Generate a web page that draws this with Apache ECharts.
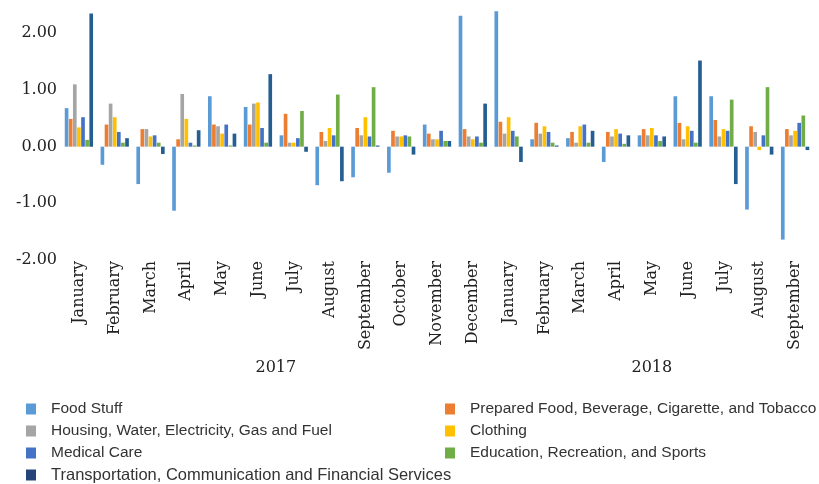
<!DOCTYPE html>
<html>
<head>
<meta charset="utf-8">
<script src="https://cdn.jsdelivr.net/npm/echarts@6/dist/echarts.min.js"></script>
<style>html,body{margin:0;padding:0;background:#fff}#c{width:819px;height:484px}</style>
</head>
<body>
<div id="c"></div>
<script>
const months = ['January','February','March','April','May','June','July','August','September','October','November','December',
  'January','February','March','April','May','June','July','August','September'];
const years = ['2017','2018'];
const monthsPerYear = [12, 9];
const yTicks = [-2, -1, 0, 1, 2];

const seriesNames = ['Food Stuff','Prepared Food, Beverage, Cigarette, and Tobacco','Housing, Water, Electricity, Gas and Fuel','Clothing','Medical Care','Education, Recreation, and Sports','Transportation, Communication and Financial Services'];

const foodStuff   = [0.68,-0.32,-0.66,-1.13,0.89,0.70,0.20,-0.68,-0.54,-0.46,0.39,2.31,2.39,0.13,0.15,-0.27,0.20,0.89,0.89,-1.11,-1.64];
const prepared    = [0.49,0.39,0.31,0.13,0.39,0.39,0.58,0.26,0.33,0.28,0.23,0.31,0.44,0.42,0.26,0.26,0.31,0.42,0.47,0.36,0.31];
const housing     = [1.10,0.76,0.31,0.93,0.36,0.76,0.07,0.10,0.20,0.18,0.13,0.18,0.23,0.23,0.07,0.18,0.20,0.13,0.18,0.26,0.20];
const clothing    = [0.34,0.52,0.18,0.49,0.23,0.78,0.07,0.33,0.52,0.18,0.13,0.13,0.52,0.36,0.36,0.31,0.33,0.36,0.31,-0.06,0.28];
const medical     = [0.52,0.26,0.20,0.07,0.39,0.33,0.15,0.20,0.18,0.20,0.28,0.18,0.28,0.26,0.39,0.23,0.20,0.28,0.28,0.20,0.42];
const education   = [0.12,0.07,0.07,0.02,0.02,0.07,0.63,0.92,1.05,0.18,0.10,0.07,0.18,0.07,0.07,0.05,0.10,0.07,0.83,1.05,0.55];
const transport   = [2.35,0.15,-0.13,0.29,0.23,1.28,-0.09,-0.61,0.02,-0.14,0.10,0.76,-0.27,0.02,0.28,0.20,0.18,1.52,-0.66,-0.14,-0.06];

const seriesData = [foodStuff, prepared, housing, clothing, medical, education, transport];
const barColors = ['#5B9BD5','#ED7D31','#A5A5A5','#FFC000','#4472C4','#70AD47','#255E91'];
const legendColors = ['#5B9BD5','#ED7D31','#A5A5A5','#FFC000','#4472C4','#70AD47','#264478'];

// year label centres derived from month counts
const yearCenters = [];
let acc = 0;
monthsPerYear.forEach(n => { yearCenters.push(acc + n / 2); acc += n; });

const chart = echarts.init(document.getElementById('c'), null, {renderer: 'canvas'});

const serif = 'DejaVu Serif';
const legendText = {fontFamily: 'Liberation Sans', fontSize: 15.5, color: '#333', lineHeight: 18, padding: [0, 0, 0, 10]};

function legendItems(idx) {
  return idx.map(i => {
    const it = {name: seriesNames[i], itemStyle: {color: legendColors[i]}};
    if (i === 6) it.textStyle = {fontSize: 16.5};
    return it;
  });
}

chart.setOption({
  animation: false,
  backgroundColor: '#fff',
  grid: {left: 61, right: 6, top: 5, bottom: 224, containLabel: false},
  legend: [
    {orient: 'vertical', left: 26, top: 400, height: 200, padding: 0, itemWidth: 10, itemHeight: 11, itemGap: 4, icon: 'rect',
     data: legendItems([0, 2, 4, 6]), textStyle: legendText, selectedMode: false},
    {orient: 'vertical', left: 445, top: 400, height: 200, padding: 0, itemWidth: 10, itemHeight: 11, itemGap: 4, icon: 'rect',
     data: legendItems([1, 3, 5]), textStyle: legendText, selectedMode: false}
  ],
  xAxis: [
    {type: 'category', data: months, position: 'bottom',
     axisLine: {show: false}, axisTick: {show: false}, splitLine: {show: false},
     axisLabel: {rotate: 90, interval: 0, margin: 1, fontFamily: serif, fontSize: 16, color: '#222'}},
    {type: 'value', min: 0, max: months.length, position: 'bottom', offset: 92,
     axisLine: {show: false}, axisTick: {show: false}, splitLine: {show: false},
     axisLabel: {customValues: yearCenters, fontFamily: serif, fontSize: 16, color: '#222',
       formatter: v => { const k = yearCenters.indexOf(v); return k >= 0 ? years[k] : ''; }}}
  ],
  yAxis: {
    type: 'value', min: -2, max: 2.5, interval: 1,
    axisLine: {show: false}, axisTick: {show: false}, splitLine: {show: false},
    axisLabel: {margin: 4, fontFamily: serif, fontSize: 16, color: '#222',
      formatter: v => yTicks.indexOf(v) >= 0 ? v.toFixed(2) : ''}
  },
  series: seriesData.map((d, i) => ({
    name: seriesNames[i], type: 'bar', xAxisIndex: 0, data: d,
    barCategoryGap: '21%', barGap: '12%',
    itemStyle: {color: barColors[i]}
  }))
});
</script>
</body>
</html>
